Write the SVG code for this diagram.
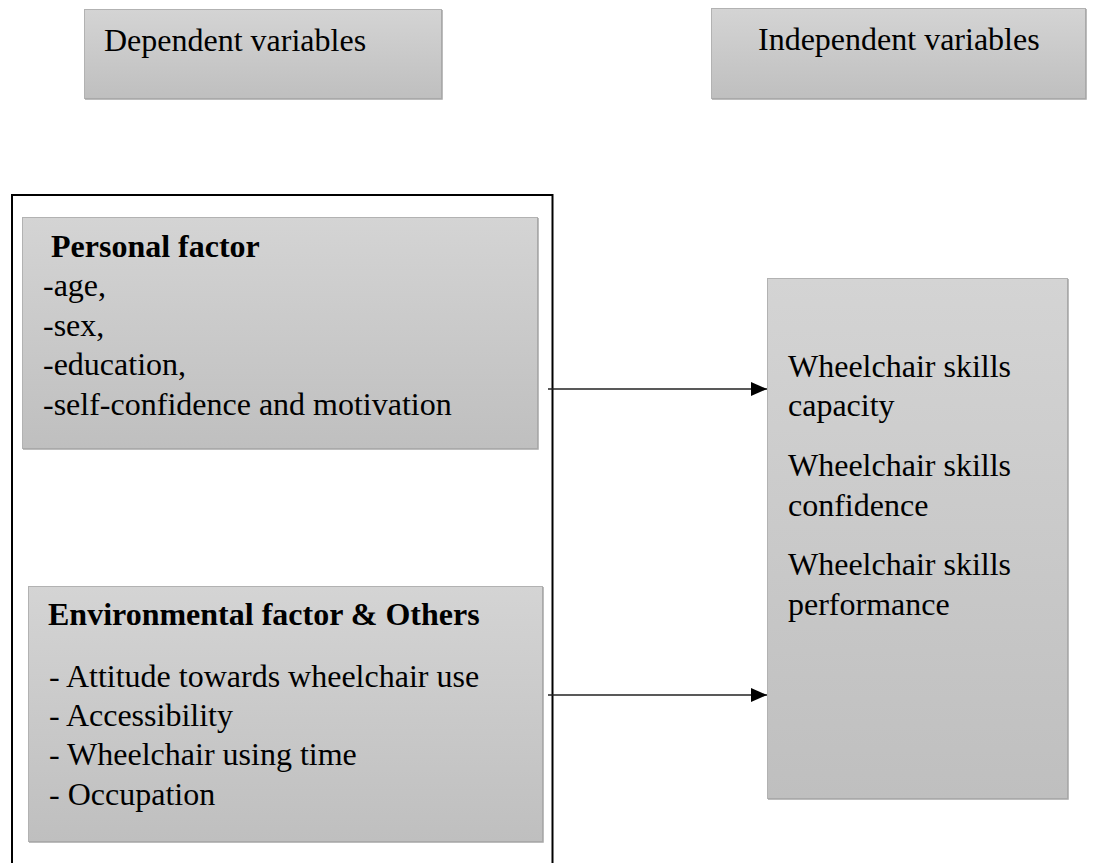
<svg xmlns="http://www.w3.org/2000/svg" width="1093" height="863" viewBox="0 0 1093 863">
  <defs>
    <linearGradient id="boxGrad" x1="0" y1="0" x2="0" y2="1">
      <stop offset="0" stop-color="#d4d4d4"/>
      <stop offset="1" stop-color="#bfbfbf"/>
    </linearGradient>
    <marker id="arrow" viewBox="0 0 16 14" refX="16" refY="7" markerWidth="16" markerHeight="14" markerUnits="userSpaceOnUse" orient="auto">
      <path d="M0,0 L16,7 L0,14 Z" fill="#000"/>
    </marker>
  </defs>
  <style>
    .box { fill: url(#boxGrad); stroke: #b2b2b2; stroke-width: 1; }
    .shadow { fill: none; stroke: #a6a6a6; stroke-width: 1.5; }
    .t { font-family: "Liberation Serif", "Times New Roman", serif; font-size: 32px; fill: #000; }
    .b { font-weight: bold; }
    .frame { fill: none; stroke: #000; stroke-width: 2; }
    .conn { stroke: #222; stroke-width: 1.3; fill: none; }
  </style>
  <rect width="1093" height="863" fill="#fff"/>

  <g id="dependent-variables">
    <rect class="box" x="84.5" y="9.5" width="357" height="89"/>
    <path class="shadow" d="M442,10 V99 H85"/>
    <text class="t" x="104" y="51">Dependent variables</text>
  </g>

  <g id="independent-variables">
    <rect class="box" x="711.5" y="8.5" width="374" height="90"/>
    <path class="shadow" d="M1086,9 V99 H712"/>
    <text class="t" x="758" y="50">Independent variables</text>
  </g>

  <g id="factors-frame">
    <rect class="frame" x="12" y="195" width="540.5" height="680"/>
  </g>

  <g id="personal-factor">
    <rect class="box" x="22.5" y="217.5" width="515" height="231"/>
    <path class="shadow" d="M538,218 V449 H23"/>
    <text class="t b" x="51" y="257">Personal factor</text>
    <text class="t" x="43" y="296">-age,</text>
    <text class="t" x="43" y="336">-sex,</text>
    <text class="t" x="43" y="375">-education,</text>
    <text class="t" x="43" y="415">-self-confidence and motivation</text>
  </g>

  <g id="environmental-factor">
    <rect class="box" x="28.5" y="586.5" width="514" height="255"/>
    <path class="shadow" d="M543,587 V842 H29"/>
    <text class="t b" x="48" y="625">Environmental factor &amp; Others</text>
    <text class="t" x="49" y="687">- Attitude towards wheelchair use</text>
    <text class="t" x="49" y="726">- Accessibility</text>
    <text class="t" x="49" y="765">- Wheelchair using time</text>
    <text class="t" x="49" y="805">- Occupation</text>
  </g>

  <g id="wheelchair-skills">
    <rect class="box" x="767.5" y="278.5" width="300" height="520"/>
    <path class="shadow" d="M1068,279 V799 H768"/>
    <text class="t" x="788" y="377">Wheelchair skills</text>
    <text class="t" x="788" y="416">capacity</text>
    <text class="t" x="788" y="476">Wheelchair skills</text>
    <text class="t" x="788" y="516">confidence</text>
    <text class="t" x="788" y="575">Wheelchair skills</text>
    <text class="t" x="788" y="615">performance</text>
  </g>

  <g id="connectors">
    <line class="conn" x1="548" y1="389" x2="767" y2="389" marker-end="url(#arrow)"/>
    <line class="conn" x1="548" y1="695" x2="767" y2="695" marker-end="url(#arrow)"/>
  </g>
</svg>
